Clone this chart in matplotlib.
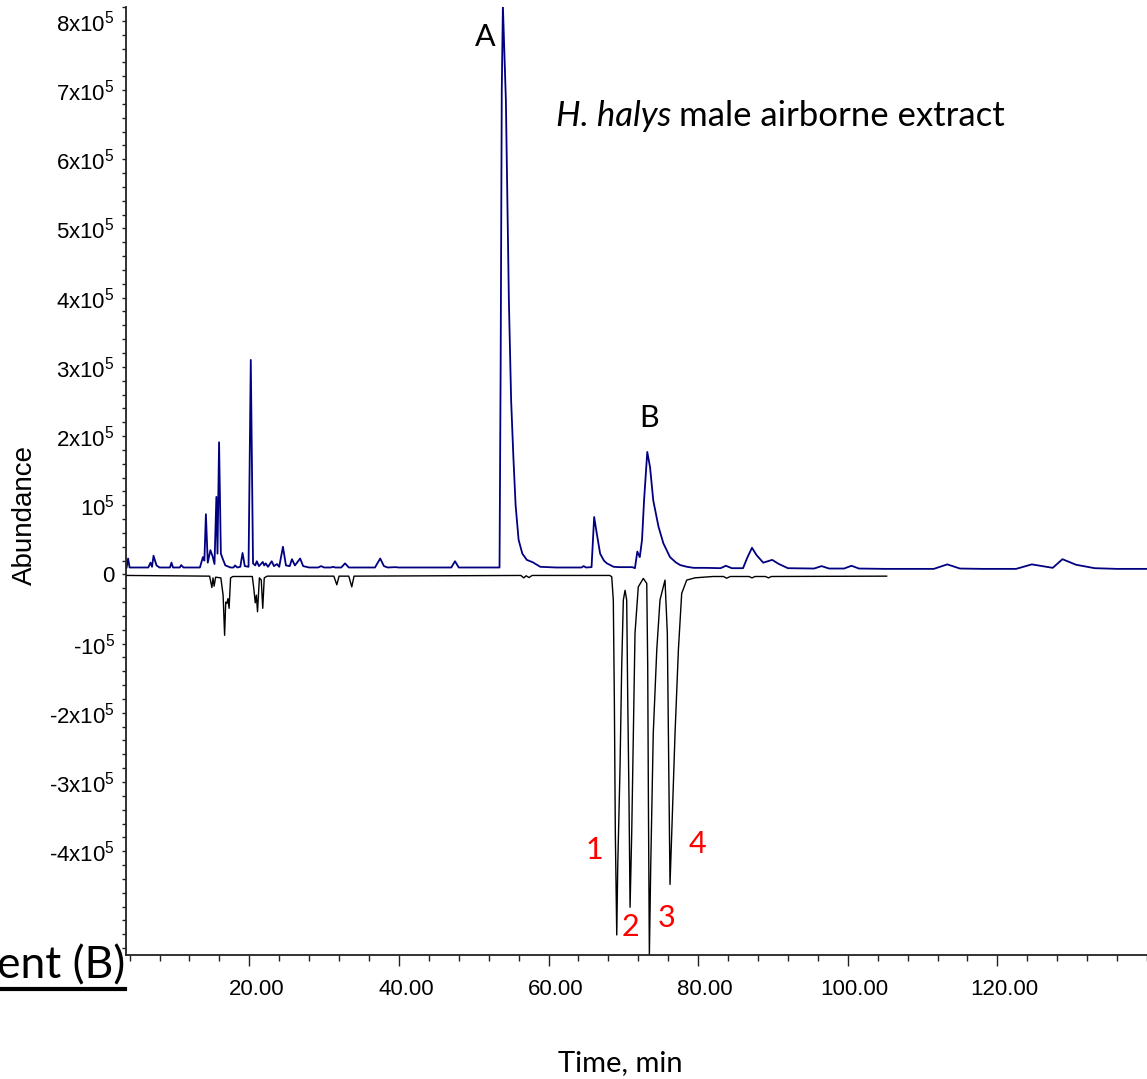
import numpy as np
import matplotlib
matplotlib.use("Agg")
import matplotlib.pyplot as plt
from matplotlib.ticker import FixedLocator, MultipleLocator
from matplotlib.transforms import ScaledTranslation

# male airborne extract trace (time in min, abundance)
blue_t = [3.6, 3.8, 4.0, 6.5, 6.8, 7.0, 7.2, 7.6, 8.0, 9.4, 9.6, 9.8, 10.7, 10.9, 11.2,
          13.4, 13.8, 14.0, 14.2, 14.45, 14.8, 15.1, 15.35, 15.6, 15.75, 15.96, 16.2, 16.4,
          16.8, 17.5, 17.9, 18.1, 18.4, 18.8, 19.1, 19.4, 19.9, 20.2, 20.5, 20.8, 21.0, 21.3,
          21.8, 22.0, 22.2, 22.5, 23.0, 23.3, 23.7, 24.0, 24.5, 24.9, 25.4, 25.7, 26.1, 26.8,
          27.2, 28.0, 29.2, 29.6, 30.0, 30.9, 31.2, 31.5, 32.3, 32.8, 33.3, 36.8, 37.5, 38.0,
          38.5, 39.5, 40.0, 47.0, 47.5, 48.0, 53.45, 53.6, 53.75, 53.9, 54.3, 54.7, 55.0, 55.3,
          55.6, 56.0, 56.5, 57.1, 57.9, 58.9, 61.0, 64.4, 64.7, 65.0, 65.75, 66.1, 66.45,
          66.9, 67.4, 67.8, 68.7, 69.5, 71.2, 71.55, 71.87, 72.2, 72.5, 72.77, 73.2, 73.57,
          74.0, 74.7, 75.35, 76.24, 77.0, 77.6, 78.5, 79.4, 81.0, 83.0, 83.7, 84.5, 86.0,
          86.6, 87.2, 87.8, 88.7, 89.9, 90.8, 92.0, 95.5, 96.5, 97.5, 99.5, 100.5, 101.5,
          105.0, 111.5, 113.3, 115.0, 118.0, 122.5, 124.6, 127.4, 128.7, 130.5, 133.0, 136.0,
          140.0]
blue_v = [10000, 23000, 10000, 10000, 17000, 11000, 27000, 13000, 10000, 10000, 17000, 10000,
          10000, 13500, 10000, 10000, 25000, 20000, 87000, 17000, 35000, 26000, 15000, 112000,
          30000, 191000, 30000, 24000, 13000, 10000, 10000, 13000, 10000, 11000, 31000, 12000,
          11000, 310000, 16000, 13000, 19000, 12000, 18000, 13000, 16000, 11000, 19000, 12000,
          15000, 11000, 40000, 13000, 12000, 22000, 13000, 23000, 12000, 10000, 10000, 12000,
          10000, 10000, 11000, 10000, 10000, 16000, 10000, 10000, 23000, 12000, 10000, 10500,
          10000, 10000, 19000, 10000, 10000, 300000, 700000, 822000, 685000, 396000, 252000,
          170000, 100000, 50000, 30000, 21000, 17500, 11000, 10000, 10000, 12000, 10000, 10500,
          83000, 59000, 30000, 20000, 16000, 11000, 10500, 10500, 9000, 33000, 25000, 50000,
          107000, 177000, 155000, 107000, 69000, 45000, 25000, 17500, 13500, 11000, 9500,
          9500, 9000, 12500, 9000, 9000, 25000, 38500, 28000, 17000, 21000, 15000, 9000, 8500,
          12000, 8500, 8500, 12500, 8500, 8000, 8000, 14500, 8500, 8000, 8000, 14500, 9500,
          22000, 14000, 9000, 8000, 8000]

# synthetic pheromone standard, drawn inverted
black_t = [3.6, 14.7, 15.0, 15.15, 15.3, 15.5, 16.2, 16.5, 16.7, 16.85, 17.0, 17.15, 17.3,
           17.5, 17.8, 20.4, 20.6, 20.8, 20.95, 21.1, 21.35, 21.6, 21.8, 22.0, 22.4, 31.3,
           31.7, 32.0, 33.3, 33.7, 34.0, 56.3, 56.7, 57.0, 57.4, 57.8, 68.2, 68.45, 68.66,
           68.8, 68.93, 69.12, 69.25, 69.56, 69.78, 70.0, 70.23, 70.45, 70.59, 70.76, 70.9,
           71.12, 71.34, 71.56, 72.0, 72.67, 73.13, 73.26, 73.35, 73.48, 73.66, 74.0, 74.47,
           74.9, 75.57, 75.88, 76.07, 76.24, 76.47, 76.91, 77.36, 77.8, 78.47, 79.6, 82.0,
           83.4, 83.8, 84.3, 86.8, 87.2, 87.6, 89.0, 89.4, 89.8, 105.2]
black_v = [-1500, -2500, -19000, -5000, -17000, -4000, -5000, -30000, -88000, -40000, -42000,
           -35000, -49000, -5000, -3000, -3000, -20000, -41000, -30000, -54000, -5000, -8000,
           -49000, -5000, -2500, -2500, -15000, -2500, -2500, -18000, -2500, -1500, -5000,
           -2000, -4500, -1500, -1500, -3500, -37000, -182000, -374000, -521000, -423000,
           -278000, -134000, -37000, -23000, -37000, -182000, -326000, -481000, -374000,
           -230000, -85000, -18000, -5800, -13000, -134000, -326000, -550000, -423000,
           -230000, -109000, -37000, -8200, -85000, -278000, -448000, -374000, -230000,
           -109000, -27500, -8200, -4900, -3000, -3000, -5500, -3000, -3000, -5000, -3000,
           -3000, -5000, -3000, -2500]

y_ticks = [-4e5, -3e5, -2e5, -1e5, 0, 1e5, 2e5, 3e5, 4e5, 5e5, 6e5, 7e5, 8e5]
y_labels = [r'-$\mathregular{4x10^5}$', r'-$\mathregular{3x10^5}$', r'-$\mathregular{2x10^5}$',
            r'-$\mathregular{10^5}$', '0', r'$\mathregular{10^5}$', r'$\mathregular{2x10^5}$',
            r'$\mathregular{3x10^5}$', r'$\mathregular{4x10^5}$', r'$\mathregular{5x10^5}$',
            r'$\mathregular{6x10^5}$', r'$\mathregular{7x10^5}$', r'$\mathregular{8x10^5}$']
x_ticks = [20, 40, 60, 80, 100, 120]
x_labels = ['20.00', '40.00', '60.00', '80.00', '100.00', '120.00']

peak_labels = ['A', 'B']
peak_pos = [(51.5, 7.76e5), (73.4, 2.26e5)]
std_labels = ['1', '2', '3', '4']
std_pos = [(66.1, -3.98e5), (71.0, -5.1e5), (75.8, -4.97e5), (79.9, -3.9e5)]

W, H = 1147, 1079
fig = plt.figure(figsize=(W / 100, H / 100), dpi=100)
ax = fig.add_axes([126 / W, 1 - 955 / H, 1 - 126 / W, (955 - 7) / H])

ax.plot(blue_t, blue_v, color='#000080', lw=1.3)
ax.plot(black_t, black_v, color='black', lw=1.0)

ax.set_xlim(3.52, 140.0)
ax.set_ylim(-5.50e5, 8.20e5)

for s in ['top', 'right']:
    ax.spines[s].set_visible(False)
for s in ['left', 'bottom']:
    ax.spines[s].set_linewidth(1.3)
    ax.spines[s].set_color('#222222')

ax.yaxis.set_major_locator(FixedLocator(y_ticks))
ax.set_yticklabels(y_labels, family='Liberation Sans', fontsize=16)
ax.yaxis.set_minor_locator(MultipleLocator(2e4))
ax.tick_params(axis='y', which='both', length=3, width=1, pad=5, color='#222222')

ax.xaxis.set_major_locator(FixedLocator(x_ticks))
ax.set_xticklabels(x_labels, family='Liberation Sans', fontsize=16)
ax.xaxis.set_minor_locator(MultipleLocator(4))
ax.tick_params(axis='x', which='major', length=8, width=1, pad=9, color='#222222')
ax.tick_params(axis='x', which='minor', length=4, width=1, color='#222222')
shift = ScaledTranslation(7 / 100, 0, fig.dpi_scale_trans)
for lab in ax.get_xticklabels():
    lab.set_transform(lab.get_transform() + shift)

for txt, (tx, ty) in zip(peak_labels, peak_pos):
    ax.text(tx, ty, txt, family='Lato', fontsize=22, ha='center', va='center')
for txt, (tx, ty) in zip(std_labels, std_pos):
    ax.text(tx, ty, txt, family='Lato', fontsize=22, ha='center', va='center', color='red')

# sample name: italic species, then plain text right after it
t1 = fig.text(556 / W, 1 - 116 / H, 'H. halys', family='Lato', style='italic',
              fontsize=25, ha='left', va='center')
renderer = fig.canvas.get_renderer()
bb = t1.get_window_extent(renderer)
fig.text((bb.x1 + 8) / W, 1 - 116 / H, 'male airborne extract', family='Lato',
         fontsize=25, ha='left', va='center')

fig.text(25 / W, 1 - 515 / H, 'Abundance', family='Liberation Sans', fontsize=20,
         rotation=90, ha='center', va='center')
fig.text(620 / W, 1 - 1063 / H, 'Time, min', family='Lato', fontsize=21,
         ha='center', va='center')

fig.text(125 / W, 1 - 966 / H, 'ent (B)', family='Lato', fontsize=32, ha='right', va='center')
fig.add_artist(plt.Line2D([0, 125 / W], [1 - 989 / H, 1 - 989 / H], color='black', lw=3,
                          transform=fig.transFigure))

fig.savefig('out.png', dpi=100)
